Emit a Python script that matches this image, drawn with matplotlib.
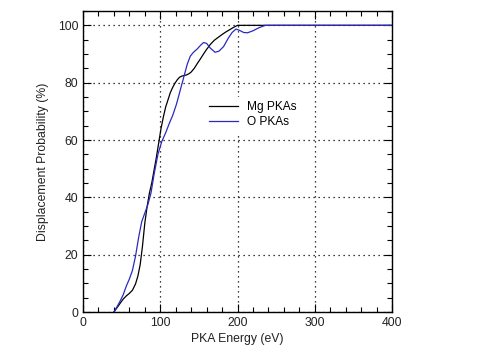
import numpy as np
import matplotlib
matplotlib.use('Agg')
import matplotlib.pyplot as plt
from matplotlib.ticker import MultipleLocator

plt.rcParams['font.family'] = ['Liberation Sans', 'DejaVu Sans']

# Mg PKAs (black)
mg_energy = [40, 44, 48, 52, 56, 60, 64, 68, 71, 74, 77, 80, 83, 86, 89,
             92, 95, 98, 101, 104, 107, 110, 113, 116, 119, 122, 125, 128,
             131, 134, 137, 140, 144, 148, 152, 156, 160, 165, 170, 175, 180,
             185, 190, 195, 200, 400]
mg_prob = [0, 1.5, 3, 4.5, 5.6, 6.5, 7.6, 9.8, 12.5, 16.5, 23, 31, 36.8, 41.5, 45,
           49.5, 54, 59, 64, 68, 71.5, 74, 76.5, 78.3, 79.8, 81, 81.9, 82.3,
           82.5, 82.7, 83.1, 83.7, 85, 86.7, 88.3, 90, 91.6, 93.4, 94.8, 95.8, 96.8,
           97.7, 98.5, 99.3, 100, 100]

# O PKAs (blue)
o_energy = [40, 44, 48, 52, 56, 60, 64, 68, 72, 76, 80, 84, 88, 92, 97,
            102, 107, 112, 116, 121, 126, 131, 135, 139, 143, 148, 152, 156,
            160, 165, 171, 176, 182, 188, 193, 198, 203, 208, 213, 220, 228,
            236, 400]
o_prob = [0, 1.8, 3.8, 6, 9, 11.5, 14.5, 19.5, 26, 31.5, 34.5, 37.5, 41.5, 48, 55,
          59.5, 62.5, 66, 68.5, 72.5, 77.5, 82.5, 86.5, 89.3, 90.6, 91.8, 93, 94,
          93.7, 92, 90.6, 91, 92.6, 95.5, 97.5, 98.7, 98.2, 97.5, 97.4, 98.1,
          99.2, 100, 100]

fig = plt.figure(figsize=(4.82, 3.55), dpi=100)
ax = fig.add_axes([0.1722, 0.1211, 0.6411, 0.8479])

ax.plot(mg_energy, mg_prob, color='black', lw=0.9, label='Mg PKAs')
ax.plot(o_energy, o_prob, color='#2a2ac0', lw=0.9, label='O PKAs')

ax.set_xlim(0, 400)
ax.set_ylim(0, 105)
ax.xaxis.set_major_locator(MultipleLocator(100))
ax.xaxis.set_minor_locator(MultipleLocator(20))
ax.yaxis.set_major_locator(MultipleLocator(20))
ax.yaxis.set_minor_locator(MultipleLocator(5))
ax.tick_params(which='both', direction='in', top=True, right=True,
               labelsize=8.8, colors='black', labelcolor='#222222')
ax.tick_params(which='major', length=5.5, width=0.8)
ax.tick_params(which='minor', length=3.5, width=0.8)
for sp in ax.spines.values():
    sp.set_linewidth(1.0)

ax.grid(True, which='major', color='black', linestyle=(0, (1, 3)), lw=0.9)

ax.set_xlabel('PKA Energy (eV)', fontsize=8.8, color='#222222', labelpad=3)
ax.set_ylabel('Displacement Probability (%)', fontsize=8.8, color='#222222',
              labelpad=6)

leg = ax.legend(loc='center', bbox_to_anchor=(0.55, 0.656), fontsize=8.6,
                frameon=True, fancybox=False, facecolor='white',
                edgecolor='white', framealpha=1, handlelength=2.4,
                handletextpad=0.8, labelspacing=0.3, borderpad=0.3)

plt.savefig('out.png', dpi=100)
